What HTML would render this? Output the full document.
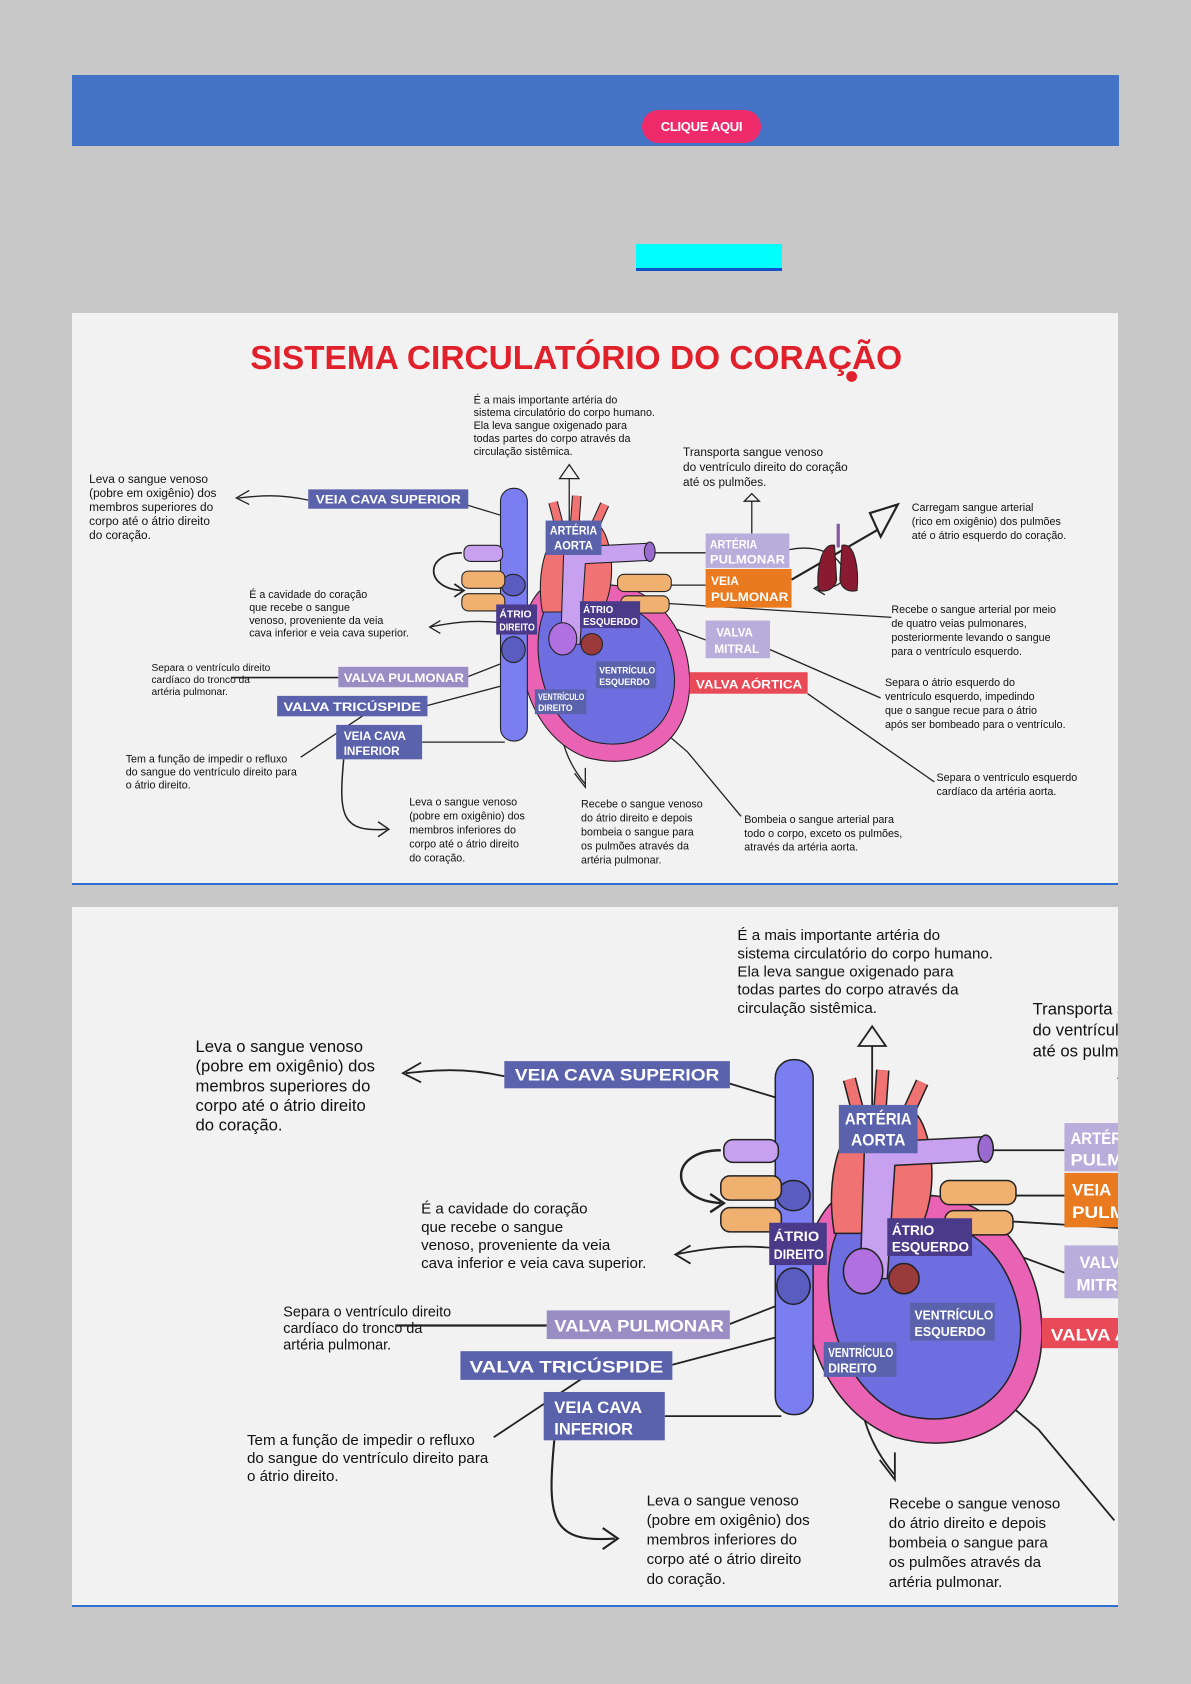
<!DOCTYPE html>
<html><head><meta charset="utf-8">
<style>
html,body{margin:0;padding:0;}
body{width:1191px;height:1684px;background:#c8c8c8;position:relative;overflow:hidden;font-family:"Liberation Sans",sans-serif;}
.bar{position:absolute;left:72px;top:75px;width:1047px;height:71px;background:#4472c4;}
.btn{position:absolute;left:642px;top:110px;width:119px;height:33px;border-radius:17px;background:#ee2a6b;color:#fff;font-weight:bold;font-size:13px;line-height:33px;text-align:center;letter-spacing:-0.3px;}
.cyan{position:absolute;left:636px;top:244px;width:146px;height:27px;background:#00ffff;border-bottom:3px solid #1150c8;box-sizing:border-box;}
.panel{position:absolute;left:72px;width:1046px;background:#f2f2f2;border-bottom:2px solid #2f6fd0;overflow:hidden;}
.p1{top:313px;height:570px;}
.p2{top:907px;height:698px;}
svg text{font-family:"Liberation Sans",sans-serif;}
</style></head><body>
<div class="bar"></div>
<div class="btn">CLIQUE AQUI</div>
<div class="cyan"></div>

<div class="panel p1">
<svg width="1046" height="570" viewBox="67 292 974 530" preserveAspectRatio="none">
<g id="diag">
<text x="233" y="344" font-size="31" font-weight="bold" fill="#e0202a" textLength="607" lengthAdjust="spacingAndGlyphs">SISTEMA CIRCULATÓRIO DO CORAÇÃO</text>
<circle cx="793" cy="351" r="5" fill="#e0202a"/>
<g font-size="10" fill="#111">
<text x="441" y="376">É a mais importante artéria do</text>
<text x="441" y="388">sistema circulatório do corpo humano.</text>
<text x="441" y="400">Ela leva sangue oxigenado para</text>
<text x="441" y="412">todas partes do corpo através da</text>
<text x="441" y="424">circulação sistêmica.</text>
<text x="636" y="425" font-size="11">Transporta sangue venoso</text>
<text x="636" y="439" font-size="11">do ventrículo direito do coração</text>
<text x="636" y="453" font-size="11">até os pulmões.</text>
<text x="83" y="450" font-size="11">Leva o sangue venoso</text>
<text x="83" y="463" font-size="11">(pobre em oxigênio) dos</text>
<text x="83" y="476" font-size="11">membros superiores do</text>
<text x="83" y="489" font-size="11">corpo até o átrio direito</text>
<text x="83" y="502" font-size="11">do coração.</text>
<text x="849" y="476">Carregam sangue arterial</text>
<text x="849" y="489">(rico em oxigênio) dos pulmões</text>
<text x="849" y="502">até o átrio esquerdo do coração.</text>
<text x="232" y="557">É a cavidade do coração</text>
<text x="232" y="569">que recebe o sangue</text>
<text x="232" y="581">venoso, proveniente da veia</text>
<text x="232" y="593">cava inferior e veia cava superior.</text>
<text x="830" y="571">Recebe o sangue arterial por meio</text>
<text x="830" y="584">de quatro veias pulmonares,</text>
<text x="830" y="597">posteriormente levando o sangue</text>
<text x="830" y="610">para o ventrículo esquerdo.</text>
<text x="141" y="625" font-size="9.5">Separa o ventrículo direito</text>
<text x="141" y="636" font-size="9.5">cardíaco do tronco da</text>
<text x="141" y="647" font-size="9.5">artéria pulmonar.</text>
<text x="824" y="639">Separa o átrio esquerdo do</text>
<text x="824" y="652">ventrículo esquerdo, impedindo</text>
<text x="824" y="665">que o sangue recue para o átrio</text>
<text x="824" y="678">após ser bombeado para o ventrículo.</text>
<text x="117" y="710">Tem a função de impedir o refluxo</text>
<text x="117" y="722">do sangue do ventrículo direito para</text>
<text x="117" y="734">o átrio direito.</text>
<text x="872" y="727">Separa o ventrículo esquerdo</text>
<text x="872" y="740">cardíaco da artéria aorta.</text>
<text x="381" y="750">Leva o sangue venoso</text>
<text x="381" y="763">(pobre em oxigênio) dos</text>
<text x="381" y="776">membros inferiores do</text>
<text x="381" y="789">corpo até o átrio direito</text>
<text x="381" y="802">do coração.</text>
<text x="541" y="752">Recebe o sangue venoso</text>
<text x="541" y="765">do átrio direito e depois</text>
<text x="541" y="778">bombeia o sangue para</text>
<text x="541" y="791">os pulmões através da</text>
<text x="541" y="804">artéria pulmonar.</text>
<text x="693" y="766">Bombeia o sangue arterial para</text>
<text x="693" y="779">todo o corpo, exceto os pulmões,</text>
<text x="693" y="792">através da artéria aorta.</text>
</g>
<g fill="none" stroke="#222" stroke-width="1.2">
<path d="M287 466 C260 460 240 462 222 464 M232 457 L220 464 L232 470"/>
<path d="M433 470 L466 480"/>
<line x1="530" y1="446" x2="530" y2="505"/>
<path d="M521 446 L530 433 L539 446 Z" fill="#f2f2f2"/>
<line x1="700" y1="467" x2="700" y2="497"/>
<path d="M693 467 L700 460 L707 467 Z" fill="#f2f2f2"/>
<path d="M430 515 C395 515 395 548 430 550 M423 544 L432 550 L423 556" stroke-width="1.6"/>
<path d="M468 580 C440 577 420 580 400 584 M410 578 L400 584 L410 590"/>
<line x1="215" y1="631" x2="315" y2="631" stroke-width="1.5"/>
<path d="M436 630 L500 605"/>
<path d="M398 657 L500 630"/>
<path d="M280 705 L340 665"/>
<line x1="393" y1="691" x2="470" y2="691"/>
<path d="M320 707 C315 760 318 775 360 772 M352 765 L362 772 L352 779" stroke-width="1.4"/>
<path d="M520 664 C522 690 528 710 545 730 M535 720 L545 733 L545 715"/>
<path d="M570 640 L640 700 L690 760"/>
<path d="M607 515 L657 515"/>
<path d="M620 545 L657 545"/>
<path d="M620 562 L830 575"/>
<path d="M600 575 L657 596"/>
<path d="M717 605 L820 650"/>
<path d="M752 646 L870 728"/>
<path d="M560 600 L642 635"/>
<path d="M735 512 C770 505 790 525 785 540 C780 548 768 548 760 548 M768 542 L758 548 L768 554"/>
<path d="M737 540 L820 492" stroke-width="2"/>
<path d="M810 478 L836 470 L820 500 Z" stroke-width="2" fill="#f2f2f2"/>
</g>
<rect x="779" y="488" width="3" height="22" fill="#8a5aa0"/>
<path d="M777 508 C765 505 760 530 762 550 C770 552 778 548 779 540 Z" fill="#8a1a30" stroke="#222"/>
<path d="M784 508 C796 505 800 530 798 550 C790 552 783 548 782 540 Z" fill="#8a1a30" stroke="#222"/>
<path d="M505 548 C470 580 480 680 545 705 C600 720 645 690 642 630 C640 585 610 548 570 545 Z" fill="#ea62b4" stroke="#222"/>
<path d="M512 560 C490 590 500 670 550 690 C595 702 630 675 628 630 C625 592 600 565 570 562 Z" fill="#6f6ee0" stroke="#222"/>
<path d="M520 495 C505 510 500 540 505 570 L560 570 C575 545 570 505 560 492 Z" fill="#f07272" stroke="#222"/>
<path d="M522 495 L515 468 M535 490 L537 462 M553 492 L563 470" stroke="#222" stroke-width="9"/>
<path d="M522 495 L515 468 M535 490 L537 462 M553 492 L563 470" stroke="#f07272" stroke-width="7"/>
<rect x="466" y="455" width="25" height="235" rx="12" fill="#7a7ef0" stroke="#222"/>
<ellipse cx="478" cy="545" rx="11" ry="10" fill="#5a5cc0" stroke="#222"/>
<ellipse cx="478" cy="605" rx="11" ry="12" fill="#5a5cc0" stroke="#222"/>
<path d="M525 510 L605 506 L605 522 L545 525 L540 600 L522 600 Z" fill="#c8a0f0" stroke="#222"/>
<ellipse cx="605" cy="514" rx="5" ry="9" fill="#9a6ad0" stroke="#222"/>
<rect x="432" y="508" width="36" height="15" rx="6" fill="#c8a0f0" stroke="#222"/>
<rect x="430" y="532" width="40" height="16" rx="6" fill="#f0b070" stroke="#222"/>
<rect x="430" y="553" width="40" height="16" rx="6" fill="#f0b070" stroke="#222"/>
<rect x="575" y="535" width="50" height="16" rx="6" fill="#f0b070" stroke="#222"/>
<rect x="578" y="555" width="45" height="16" rx="6" fill="#f0b070" stroke="#222"/>
<ellipse cx="524" cy="595" rx="13" ry="15" fill="#b070e0" stroke="#222"/>
<ellipse cx="551" cy="600" rx="10" ry="10" fill="#9a3a3a" stroke="#222"/>
<g font-weight="bold" fill="#fff" font-size="11">
<rect x="287" y="456" width="149" height="18" fill="#5a62ac"/>
<text x="294" y="469" textLength="135" lengthAdjust="spacingAndGlyphs">VEIA CAVA SUPERIOR</text>
<rect x="508" y="485" width="52" height="32" fill="#5a62ac"/>
<text x="512" y="498" textLength="44" lengthAdjust="spacingAndGlyphs">ARTÉRIA</text>
<text x="516" y="512" textLength="36" lengthAdjust="spacingAndGlyphs">AORTA</text>
<rect x="657" y="497" width="78" height="32" fill="#b9addb"/>
<text x="661" y="511" textLength="44" lengthAdjust="spacingAndGlyphs">ARTÉRIA</text>
<text x="661" y="525" textLength="70" lengthAdjust="spacingAndGlyphs">PULMONAR</text>
<rect x="657" y="530" width="80" height="36" fill="#e97a1f"/>
<text x="662" y="545" textLength="26" lengthAdjust="spacingAndGlyphs">VEIA</text>
<text x="662" y="560" textLength="72" lengthAdjust="spacingAndGlyphs">PULMONAR</text>
<rect x="462" y="563" width="38" height="28" fill="#4a3a8a"/>
<text x="465" y="575" font-size="9" textLength="30" lengthAdjust="spacingAndGlyphs">ÁTRIO</text>
<text x="465" y="587" font-size="9" textLength="33" lengthAdjust="spacingAndGlyphs">DIREITO</text>
<rect x="540" y="560" width="56" height="25" fill="#4a3a8a"/>
<text x="543" y="571" font-size="9" textLength="28" lengthAdjust="spacingAndGlyphs">ÁTRIO</text>
<text x="543" y="582" font-size="9" textLength="51" lengthAdjust="spacingAndGlyphs">ESQUERDO</text>
<rect x="657" y="578" width="60" height="35" fill="#b9addb"/>
<text x="667" y="593" textLength="34" lengthAdjust="spacingAndGlyphs">VALVA</text>
<text x="665" y="608" textLength="42" lengthAdjust="spacingAndGlyphs">MITRAL</text>
<rect x="315" y="621" width="121" height="19" fill="#9a8dc4"/>
<text x="320" y="635" textLength="112" lengthAdjust="spacingAndGlyphs">VALVA PULMONAR</text>
<rect x="642" y="626" width="110" height="20" fill="#e84a57"/>
<text x="648" y="641" textLength="99" lengthAdjust="spacingAndGlyphs">VALVA AÓRTICA</text>
<rect x="555" y="616" width="56" height="25" fill="#5a62ac"/>
<text x="558" y="627" font-size="8.5" textLength="52" lengthAdjust="spacingAndGlyphs">VENTRÍCULO</text>
<text x="558" y="638" font-size="8.5" textLength="47" lengthAdjust="spacingAndGlyphs">ESQUERDO</text>
<rect x="258" y="648" width="140" height="19" fill="#5a62ac"/>
<text x="264" y="662" textLength="128" lengthAdjust="spacingAndGlyphs">VALVA TRICÚSPIDE</text>
<rect x="498" y="642" width="48" height="23" fill="#5a62ac"/>
<text x="501" y="652" font-size="8.5" textLength="43" lengthAdjust="spacingAndGlyphs">VENTRÍCULO</text>
<text x="501" y="662" font-size="8.5" textLength="32" lengthAdjust="spacingAndGlyphs">DIREITO</text>
<rect x="313" y="675" width="80" height="32" fill="#5a62ac"/>
<text x="320" y="689" textLength="58" lengthAdjust="spacingAndGlyphs">VEIA CAVA</text>
<text x="320" y="703" textLength="52" lengthAdjust="spacingAndGlyphs">INFERIOR</text>
</g>
</g>
</svg>
</div>

<div class="panel p2">
<svg width="1046" height="698" viewBox="1.4 354 691 462" preserveAspectRatio="none">
<use href="#diag"/>
</svg>
</div>
</body></html>
